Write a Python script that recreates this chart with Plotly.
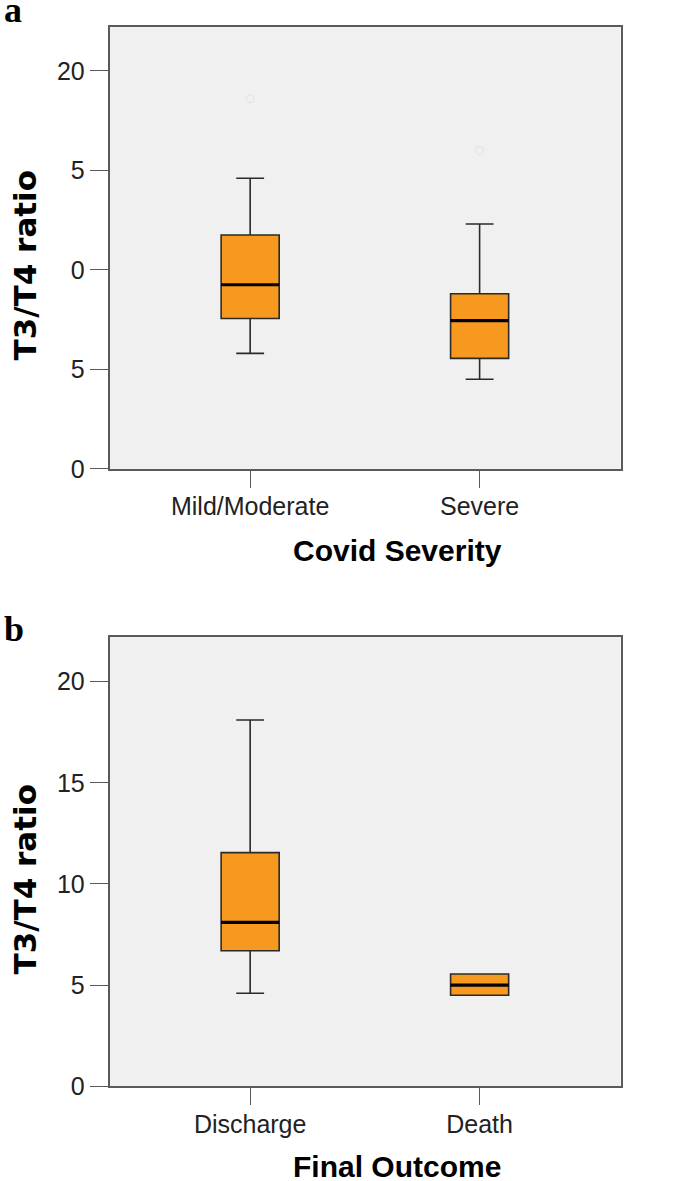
import plotly.graph_objects as go

# ---- data ----
sev_cats = ["Mild/Moderate", "Severe"]
sev_lower = [5.8, 4.5]
sev_q1 = [7.55, 5.55]
sev_median = [9.25, 7.45]
sev_q3 = [11.75, 8.8]
sev_upper = [14.6, 12.3]
sev_outliers = [18.6, 16.0]

out_cats = ["Discharge", "Death"]
out_lower = [4.6, 4.5]
out_q1 = [6.7, 4.5]
out_median = [8.1, 5.0]
out_q3 = [11.55, 5.55]
out_upper = [18.1, 5.55]

y_tickvals = [0, 5, 10, 15, 20]
top_ticktext = ["0", "5", "0", "5", "20"]
bottom_ticktext = ["0", "5", "10", "15", "20"]

BOX_W = 0.253
ORANGE = "#f7991f"
FONT = "Liberation Sans, Arial, sans-serif"
W, H = 685, 1181          # reference picture size (fractions below are relative to it)
FIG_H = 1197              # rendered page height (the capture is fitted to 1181)

fig = go.Figure()

def add_box(cats, lo, q1, med, q3, up, xa, ya):
    fig.add_trace(go.Box(
        x=cats, lowerfence=lo, q1=q1, median=med, q3=q3, upperfence=up,
        width=BOX_W, whiskerwidth=0.48, fillcolor=ORANGE,
        line=dict(color="#2a2a2a", width=1.6),
        boxpoints=False, showlegend=False, hoverinfo="skip",
        xaxis=xa, yaxis=ya))
    for i, m in enumerate(med):
        fig.add_shape(type="line", xref=xa, yref=ya,
                      x0=i - BOX_W / 2, x1=i + BOX_W / 2, y0=m, y1=m,
                      line=dict(color="black", width=3.2))

add_box(sev_cats, sev_lower, sev_q1, sev_median, sev_q3, sev_upper, "x", "y")
add_box(out_cats, out_lower, out_q1, out_median, out_q3, out_upper, "x2", "y2")

fig.add_trace(go.Scatter(x=sev_cats, y=sev_outliers, mode="markers",
                         marker=dict(symbol="circle-open", size=8, color="#e2e2e2", line=dict(width=1)),
                         showlegend=False, hoverinfo="skip", xaxis="x", yaxis="y"))

xdom = [109.5 / W, 620.5 / W]
top_dom = [1 - 468 / H, 1 - 27 / H]
bot_dom = [1 - 1084.5 / H, 1 - 636 / H]

axis_common = dict(showline=True, mirror=True, linecolor="#5a5a5a", linewidth=1.5,
                   showgrid=False, zeroline=False, ticks="outside", tickcolor="#5a5a5a",
                   tickwidth=1.3, tickfont=dict(family=FONT, size=25, color="#222222"))

fig.update_layout(
    width=W, height=FIG_H,
    margin=dict(l=0, r=0, t=0, b=0),
    paper_bgcolor="white", plot_bgcolor="#f0f0f0",
    xaxis=dict(domain=xdom, anchor="y", type="category", range=[-0.613, 1.614],
               ticklen=17, ticklabelstandoff=-3, **axis_common),
    yaxis=dict(domain=top_dom, anchor="x", range=[0, 22.2], tickvals=y_tickvals,
               ticktext=top_ticktext, ticklen=18, **axis_common),
    xaxis2=dict(domain=xdom, anchor="y2", type="category", range=[-0.613, 1.614],
                ticklen=17, ticklabelstandoff=-2, **axis_common),
    yaxis2=dict(domain=bot_dom, anchor="x2", range=[0, 22.2], tickvals=y_tickvals,
                ticktext=bottom_ticktext, ticklen=18, **axis_common),
)

SERIF = "Liberation Serif, Times New Roman, serif"
ann = [
    dict(text="<b>a</b>", x=2 / W, y=1 - 10 / H, xanchor="left", yanchor="middle",
         font=dict(family=SERIF, size=36, color="black")),
    dict(text="<b>b</b>", x=2 / W, y=1 - 628 / H, xanchor="left", yanchor="middle",
         font=dict(family=SERIF, size=36, color="black")),
    dict(text="<b>T3/T4 ratio</b>", x=25 / W, y=1 - 265 / H, textangle=-90,
         xanchor="center", yanchor="middle", font=dict(family="DejaVu Sans, sans-serif", size=31, color="black")),
    dict(text="<b>T3/T4 ratio</b>", x=25 / W, y=1 - 878 / H, textangle=-90,
         xanchor="center", yanchor="middle", font=dict(family="DejaVu Sans, sans-serif", size=31, color="black")),
    dict(text="<b>Covid Severity</b>", x=397 / W, y=1 - 550 / H,
         xanchor="center", yanchor="middle", font=dict(family=FONT, size=30, color="black")),
    dict(text="<b>Final Outcome</b>", x=397 / W, y=1 - 1165 / H,
         xanchor="center", yanchor="middle", font=dict(family=FONT, size=30, color="black")),
]
for a in ann:
    a.update(xref="paper", yref="paper", showarrow=False)
fig.update_layout(annotations=ann)

page_fix = ("document.body.style.margin='0';"
            "document.documentElement.style.overflow='hidden';"
            "document.body.style.overflow='hidden';")

fig.write_html("out.html", config={"displayModeBar": False}, post_script=page_fix)
